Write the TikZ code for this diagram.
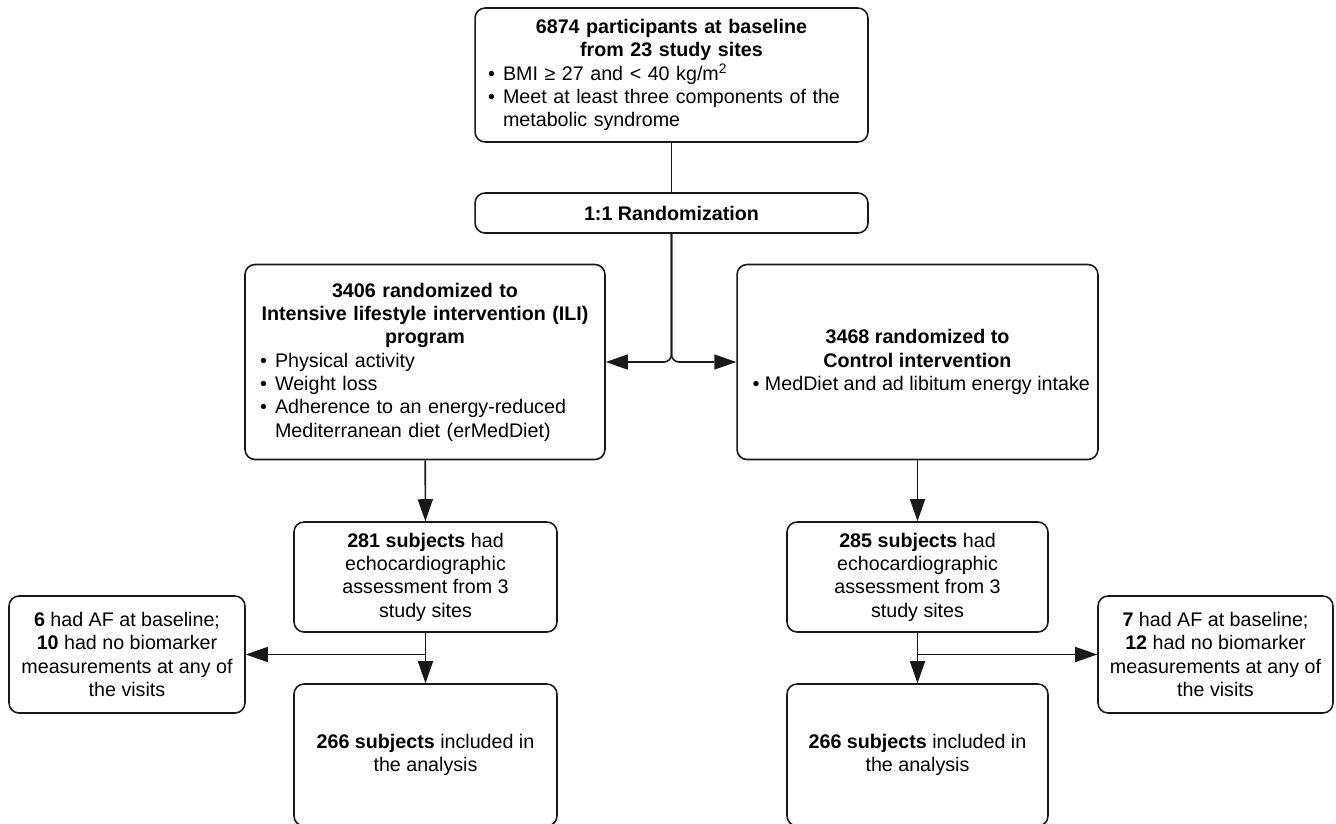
\documentclass[tikz,border=0pt]{standalone}
\usepackage{fontspec}
\setmainfont{Liberation Sans}
\usepackage{tikz}
\usetikzlibrary{positioning, arrows.meta}
\newcommand{\bpt}[1]{\par\noindent\hangindent=0.3cm\hangafter=1\makebox[0.3cm][l]{\textbullet}#1\par}

\begin{document}
\begin{tikzpicture}[x=0.02cm, y=-0.02cm,
    stage/.style={rectangle, rounded corners=0.2cm, draw=black!90, line width=0.9pt, align=center, font=\fontsize{11.2}{13.3}\selectfont},
    arrow/.style={-{Triangle[length=0.44cm, width=0.3cm]}, line width=0.9pt, draw=black!90}
]
    \useasboundingbox (0,0) rectangle (1336,823);
    \clip (0,0) rectangle (1336,823);

    % Baseline
    \node[stage, minimum width=7.86cm, minimum height=2.68cm, text width=7.34cm, align=left] (base) at (671.5,75) {\centering\textbf{6874 participants at baseline}\\ \textbf{from 23 study sites}\par\raggedright
      \bpt{BMI ≥ 27 and < 40 kg/m\textsuperscript{2}}
      \bpt{Meet at least three components of the\newline metabolic syndrome}};

    % Randomization
    \node[stage, minimum width=7.86cm, minimum height=0.8cm] (rand) at (671.5,213) {\textbf{1:1 Randomization}};

    % ILI arm
    \node[stage, minimum width=7.2cm, minimum height=3.9cm, text width=6.6cm, align=left] (ili) at (425,362) {\centering\textbf{3406 randomized to}\\ \textbf{Intensive lifestyle intervention (ILI)}\\ \textbf{program}\par\raggedright
      \bpt{Physical activity}
      \bpt{Weight loss}
      \bpt{Adherence to an energy-reduced\newline Mediterranean diet (erMedDiet)}};

    % Control arm
    \node[stage, minimum width=7.22cm, minimum height=3.9cm] (ctrl) at (917.5,362) {\textbf{3468 randomized to}\\ \textbf{Control intervention}\\ \hspace*{0.15cm}\textbullet\ MedDiet and ad libitum energy intake};

    % Echo subsets
    \node[stage, minimum width=5.26cm, minimum height=2.2cm] (echoL) at (425.5,577) {\textbf{281 subjects} had\\ echocardiographic\\ assessment from 3\\ study sites};
    \node[stage, minimum width=5.22cm, minimum height=2.2cm] (echoR) at (917.5,577) {\textbf{285 subjects} had\\ echocardiographic\\ assessment from 3\\ study sites};

    % Exclusions
    \node[stage, minimum width=4.72cm, minimum height=2.34cm] (exclL) at (127,654.5) {\textbf{6} had AF at baseline;\\ \textbf{10} had no biomarker\\ measurements at any of\\ the visits};
    \node[stage, minimum width=4.7cm, minimum height=2.34cm] (exclR) at (1215.5,654.5) {\textbf{7} had AF at baseline;\\ \textbf{12} had no biomarker\\ measurements at any of\\ the visits};

    % Analysed
    \node[stage, minimum width=5.26cm, minimum height=2.84cm] (anaL) at (425.5,755) {\textbf{266 subjects} included in\\ the analysis};
    \node[stage, minimum width=5.22cm, minimum height=2.84cm] (anaR) at (917.5,755) {\textbf{266 subjects} included in\\ the analysis};

    \draw[line width=0.9pt, draw=black!90] (base) -- (rand);
    \draw[arrow, rounded corners=0.15cm] (rand.south) |- (ili.east);
    \draw[arrow, rounded corners=0.15cm] (rand.south) |- (ctrl.west);
    \draw[arrow] (ili) -- (echoL);
    \draw[arrow] (ctrl) -- (echoR);
    \draw[arrow] (echoL) -- (anaL);
    \draw[arrow] (echoL.south) |- (exclL.east);
    \draw[arrow] (echoR) -- (anaR);
    \draw[arrow] (echoR.south) |- (exclR.west);
\end{tikzpicture}
\end{document}
